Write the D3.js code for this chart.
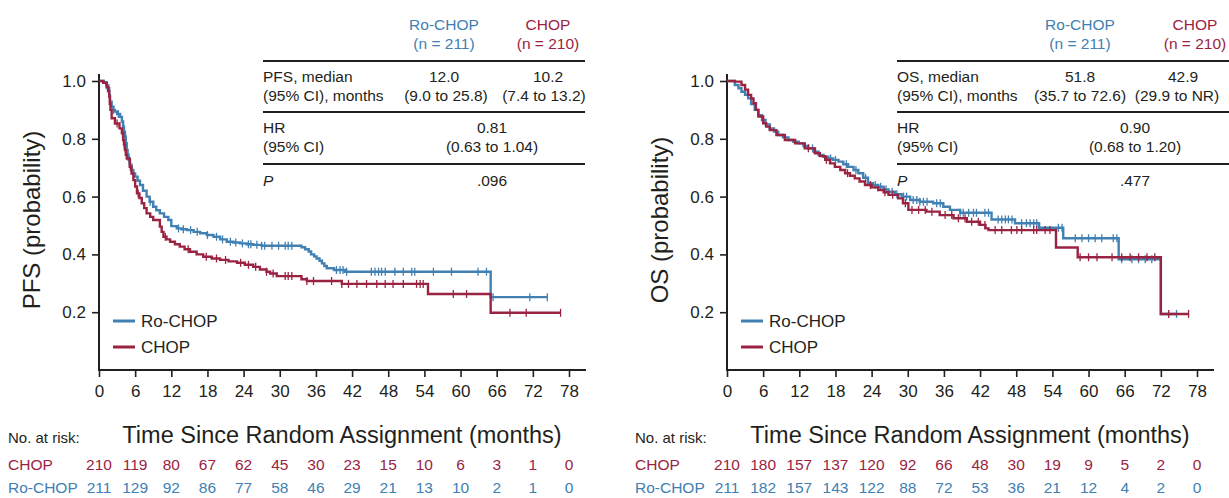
<!DOCTYPE html>
<html>
<head>
<meta charset="utf-8">
<script src="https://cdn.jsdelivr.net/npm/d3@7"></script>
<style>
  body { margin: 0; background: #fff; }
  text { font-family: "Liberation Sans", Arial, Helvetica, sans-serif; fill: #231f20; }
</style>
</head>
<body>
<svg id="chart" width="1229" height="498"></svg>
<script>
// ---- data ----
var months = [0, 6, 12, 18, 24, 30, 36, 42, 48, 54, 60, 66, 72, 78];
var probTicks = [0.2, 0.4, 0.6, 0.8, 1.0];

// PFS, [month, survival] at each step (last entry = end of follow-up)
var pfsRoSteps = [[0,1],[0.8,0.995],[1.2,0.985],[1.55,0.975],[1.7,0.95],[1.83,0.928],[2.1,0.911],[2.4,0.9],[2.65,0.894],[3,0.886],[3.5,0.876],[3.8,0.86],[4,0.842],[4.15,0.825],[4.3,0.807],[4.45,0.785],[4.6,0.761],[4.75,0.745],[4.9,0.727],[5.15,0.71],[5.4,0.692],[5.7,0.68],[6,0.669],[6.4,0.655],[6.8,0.64],[7.3,0.62],[7.9,0.6],[8.4,0.582],[9,0.565],[9.5,0.553],[10.1,0.542],[10.8,0.53],[11.5,0.519],[12,0.498],[12.9,0.49],[13.7,0.487],[14.6,0.484],[15.7,0.478],[16.8,0.473],[17.9,0.467],[19,0.461],[20.1,0.452],[21.2,0.444],[22.3,0.441],[23.4,0.438],[24.5,0.435],[25.6,0.433],[27,0.43],[33.6,0.425],[34.2,0.418],[34.8,0.41],[35.2,0.4],[35.7,0.393],[36.1,0.386],[36.6,0.378],[37,0.369],[37.4,0.36],[37.8,0.352],[39,0.346],[40.8,0.34],[65,0.252],[74.4,0.252]];
var pfsChopSteps = [[0,1],[0.7,0.994],[1.3,0.98],[1.5,0.965],[1.7,0.946],[1.8,0.92],[1.9,0.9],[2.1,0.871],[2.65,0.853],[3.4,0.836],[3.8,0.819],[4,0.796],[4.15,0.78],[4.3,0.761],[4.45,0.745],[4.6,0.732],[5.1,0.703],[5.4,0.68],[5.7,0.657],[6,0.635],[6.3,0.611],[6.7,0.595],[7.1,0.577],[7.5,0.56],[7.9,0.542],[8.5,0.53],[9,0.519],[10.1,0.496],[10.4,0.478],[10.7,0.461],[11.2,0.452],[11.8,0.444],[12.6,0.435],[13.4,0.427],[14.2,0.418],[15.1,0.409],[16.2,0.4],[17.3,0.392],[18.7,0.386],[20.1,0.381],[21.5,0.376],[22.9,0.371],[24.2,0.364],[25.6,0.357],[26.7,0.348],[27.8,0.34],[28.4,0.334],[29.5,0.325],[33.6,0.314],[34.5,0.308],[40.3,0.298],[54.6,0.263],[65,0.198],[76.6,0.198]];
var pfsRoCensor = [1.2, 2.4, 3.2, 4.4, 5, 8.5, 13.2, 14, 15.2, 16.3, 18, 19.5, 20.5, 21.8, 22.7, 23.8, 24.8, 25.2, 26.2, 27, 27.5, 28.7, 29.8, 30.9, 31.4, 32, 39.4, 40, 40.5, 41.1, 45.2, 45.8, 46.4, 46.9, 47.5, 49.1, 50.5, 51.9, 52.4, 55.5, 58.5, 62.9, 64.3, 65.4, 71.5, 74.4];
var pfsChopCensor = [1.6, 3, 4.2, 5.2, 6.5, 11, 14.8, 17.8, 19.5, 21, 23.5, 24.8, 26, 27.8, 28.9, 30.9, 31.4, 32, 34.5, 35.6, 38.6, 40.3, 41.4, 42.8, 44.4, 46.1, 47.5, 48.8, 50.5, 52.7, 53.3, 53.8, 58.8, 61, 68.2, 70.9, 76.6];

// OS
var osRoSteps = [[0,1],[1.3,0.986],[1.9,0.975],[2.4,0.963],[3,0.952],[3.5,0.94],[4,0.92],[4.6,0.9],[5.2,0.882],[5.8,0.865],[6.4,0.85],[7.1,0.836],[7.8,0.825],[8.5,0.813],[9.3,0.805],[10.2,0.796],[11,0.79],[11.9,0.784],[12.7,0.775],[13.5,0.767],[14.4,0.755],[15.2,0.744],[16,0.738],[16.8,0.732],[17.6,0.727],[18.5,0.721],[19.3,0.712],[20.1,0.703],[21,0.692],[21.8,0.681],[22.6,0.665],[23.4,0.646],[24.2,0.64],[25.1,0.634],[26,0.625],[26.8,0.617],[27.9,0.608],[29,0.6],[30.4,0.588],[32,0.582],[34.2,0.577],[35.9,0.565],[37,0.554],[38.7,0.544],[43.9,0.521],[47.8,0.508],[51.8,0.492],[55.8,0.456],[65,0.383],[72,0.194],[74.6,0.194]];
var osChopSteps = [[0,1],[1.3,0.998],[2.4,0.986],[3,0.97],[3.5,0.952],[4,0.94],[4.4,0.923],[4.8,0.9],[5.2,0.877],[6,0.854],[6.5,0.842],[7.1,0.83],[8.2,0.813],[9.6,0.796],[11.3,0.784],[12.9,0.767],[14.6,0.75],[15.4,0.74],[16.3,0.727],[17.1,0.715],[17.9,0.703],[18.8,0.692],[19.6,0.681],[20.4,0.672],[21.2,0.663],[22,0.652],[22.9,0.64],[24,0.632],[25.1,0.623],[26,0.615],[26.8,0.606],[28.4,0.594],[29.2,0.577],[30.1,0.554],[33.1,0.548],[35.3,0.536],[37.6,0.525],[39.8,0.513],[42,0.502],[42.9,0.49],[43.4,0.484],[54.6,0.424],[58.2,0.39],[72,0.194],[76.6,0.194]];
var osRoCensor = [14.2, 17.2, 18, 19.8, 21.4, 23, 24.6, 25.5, 26.4, 27.4, 28.2, 29.3, 29.8, 30.9, 31.5, 32, 32.6, 33.2, 34.8, 35.4, 38.7, 39.2, 40.1, 40.9, 41.4, 42.8, 43.4, 45, 45.6, 46.2, 46.7, 47.3, 48.9, 49.7, 50.3, 50.9, 51.4, 55, 55.6, 57.8, 58.9, 60, 61.1, 62.2, 64.1, 64.7, 65.5, 67.2, 68.3, 69.4, 70.5, 74.6];
var osChopCensor = [13.5, 16.5, 20, 23.8, 26.2, 27.5, 29.6, 30.7, 31.8, 32.9, 34, 36.2, 37.3, 38.4, 39.5, 40.6, 41.7, 42.8, 44.5, 45.6, 47.2, 48.1, 48.9, 50.9, 51.4, 52.8, 53.6, 58.6, 60, 61.4, 63.9, 65.5, 66.9, 68.3, 69.7, 71, 73.3, 76.6];

// numbers at risk
var pfsRiskChop = [210, 119, 80, 67, 62, 45, 30, 23, 15, 10, 6, 3, 1, 0];
var pfsRiskRo = [211, 129, 92, 86, 77, 58, 46, 29, 21, 13, 10, 2, 1, 0];
var osRiskChop = [210, 180, 157, 137, 120, 92, 66, 48, 30, 19, 9, 5, 2, 0];
var osRiskRo = [211, 182, 157, 143, 122, 88, 72, 53, 36, 21, 12, 4, 2, 0];

// inset tables
var armHeads = [["Ro-CHOP", "(n = 211)"], ["CHOP", "(n = 210)"]];
var pfsMedians = [["12.0", "(9.0 to 25.8)"], ["10.2", "(7.4 to 13.2)"]];
var osMedians = [["51.8", "(35.7 to 72.6)"], ["42.9", "(29.9 to NR)"]];
var pfsHR = ["0.81", "(0.63 to 1.04)", ".096"];
var osHR = ["0.90", "(0.68 to 1.20)", ".477"];

var blue = "#4180b2", red = "#9b2342";
var svg = d3.select("#chart");

function stepAt(steps, t) {
  var s = steps[0][1];
  for (var i = 0; i < steps.length; i++) { if (steps[i][0] <= t) s = steps[i][1]; }
  return s;
}

function drawPanel(p) {
  var g = svg.append("g").attr("transform", "translate(" + p.dx + ",0)");
  var x = d3.scaleLinear().domain([0, 78]).range([99, 569]);
  var y = d3.scaleLinear().domain([0, 1]).range([370, 81]);

  // axes
  var xAxis = g.append("g").attr("transform", "translate(0,370)")
    .call(d3.axisBottom(x).tickValues(months).tickSize(7).tickPadding(8));
  xAxis.select(".domain").remove();
  xAxis.selectAll("line").attr("stroke", "#231f20").attr("stroke-width", 1.6);
  xAxis.selectAll("text").style("font-size", "17px").attr("fill", "#231f20");
  var yAxis = g.append("g").attr("transform", "translate(99,0)")
    .call(d3.axisLeft(y).tickValues(probTicks).tickFormat(d3.format(".1f")).tickSize(7).tickPadding(6));
  yAxis.select(".domain").remove();
  yAxis.selectAll("line").attr("stroke", "#231f20").attr("stroke-width", 1.6);
  yAxis.selectAll("text").style("font-size", "17px").attr("fill", "#231f20");
  g.append("line").attr("x1", 99).attr("x2", 99).attr("y1", 74).attr("y2", 371)
    .attr("stroke", "#231f20").attr("stroke-width", 2);
  g.append("line").attr("x1", 98).attr("x2", 586).attr("y1", 370).attr("y2", 370)
    .attr("stroke", "#231f20").attr("stroke-width", 2);

  g.append("text").attr("transform", "translate(40,220) rotate(-90)")
    .attr("text-anchor", "middle").style("font-size", "24px").text(p.yTitle);
  g.append("text").attr("x", 342).attr("y", 443).attr("text-anchor", "middle")
    .style("font-size", "23.5px").text("Time Since Random Assignment (months)");

  // curves
  var line = d3.line().x(function(d) { return x(d[0]); }).y(function(d) { return y(d[1]); })
    .curve(d3.curveStepAfter);
  [[p.roSteps, p.roCensor, blue], [p.chopSteps, p.chopCensor, red]].forEach(function(c) {
    g.append("path").datum(c[0]).attr("d", line).attr("fill", "none")
      .attr("stroke", c[2]).attr("stroke-width", 2.4);
    g.append("g").selectAll("line").data(c[1]).join("line")
      .attr("x1", function(t) { return x(t); }).attr("x2", function(t) { return x(t); })
      .attr("y1", function(t) { return y(stepAt(c[0], t)) - 4; })
      .attr("y2", function(t) { return y(stepAt(c[0], t)) + 4; })
      .attr("stroke", c[2]).attr("stroke-width", 1.3);
  });

  // legend
  [["Ro-CHOP", blue, 321], ["CHOP", red, 347]].forEach(function(l) {
    g.append("line").attr("x1", 113).attr("x2", 135).attr("y1", l[2]).attr("y2", l[2])
      .attr("stroke", l[1]).attr("stroke-width", 3);
    g.append("text").attr("x", 141).attr("y", l[2] + 6).style("font-size", "17px").text(l[0]);
  });

  // numbers at risk
  g.append("text").attr("x", p.riskX).attr("y", 443).style("font-size", "15px").text("No. at risk:");
  [["CHOP", p.riskChop, red, 470], ["Ro-CHOP", p.riskRo, blue, 493]].forEach(function(r) {
    g.append("text").attr("x", p.riskX).attr("y", r[3]).style("font-size", "15.5px")
      .style("fill", r[2]).text(r[0]);
    g.append("g").selectAll("text").data(r[1]).join("text")
      .attr("x", function(d, i) { return x(months[i]); }).attr("y", r[3])
      .attr("text-anchor", "middle").style("font-size", "15.5px").style("fill", r[2])
      .text(function(d) { return d; });
  });

  // inset table
  var t = g.append("g").attr("transform", "translate(" + p.tableX + ",0)");
  [61, 112, 164].forEach(function(yy) {
    t.append("line").attr("x1", 0).attr("x2", p.tableW).attr("y1", yy).attr("y2", yy)
      .attr("stroke", "#231f20").attr("stroke-width", 1.8);
  });
  armHeads.forEach(function(h, i) {
    [30, 49].forEach(function(yy, j) {
      t.append("text").attr("x", p.headX[i]).attr("y", yy).attr("text-anchor", "middle")
        .style("font-size", "15.5px").style("fill", i === 0 ? blue : red).text(h[j]);
    });
  });
  t.append("text").attr("x", 0).attr("y", 82).style("font-size", "15.5px").text(p.medLabel);
  t.append("text").attr("x", 0).attr("y", 101).style("font-size", "15.5px").text("(95% CI), months");
  p.medians.forEach(function(m, i) {
    t.append("text").attr("x", p.colX[i][0]).attr("y", 82).attr("text-anchor", "middle")
      .style("font-size", "15.5px").text(m[0]);
    t.append("text").attr("x", p.colX[i][1]).attr("y", 101).attr("text-anchor", "middle")
      .style("font-size", "15.5px").text(m[1]);
  });
  t.append("text").attr("x", 0).attr("y", 133).style("font-size", "15.5px").text("HR");
  t.append("text").attr("x", 0).attr("y", 152).style("font-size", "15.5px").text("(95% CI)");
  t.append("text").attr("x", p.midX).attr("y", 133).attr("text-anchor", "middle")
    .style("font-size", "15.5px").text(p.hr[0]);
  t.append("text").attr("x", p.midX).attr("y", 152).attr("text-anchor", "middle")
    .style("font-size", "15.5px").text(p.hr[1]);
  t.append("text").attr("x", 0).attr("y", 186).style("font-size", "15.5px")
    .style("font-style", "italic").text("P");
  t.append("text").attr("x", p.midX).attr("y", 186).attr("text-anchor", "middle")
    .style("font-size", "15.5px").text(p.hr[2]);
}

drawPanel({
  dx: 0, yTitle: "PFS (probability)", riskX: 8,
  roSteps: pfsRoSteps, chopSteps: pfsChopSteps, roCensor: pfsRoCensor, chopCensor: pfsChopCensor,
  riskChop: pfsRiskChop, riskRo: pfsRiskRo,
  tableX: 263, tableW: 322, headX: [181, 285], colX: [[181, 183], [285, 281]], midX: 229,
  medLabel: "PFS, median", medians: pfsMedians, hr: pfsHR
});
drawPanel({
  dx: 628, yTitle: "OS (probability)", riskX: 7,
  roSteps: osRoSteps, chopSteps: osChopSteps, roCensor: osRoCensor, chopCensor: osChopCensor,
  riskChop: osRiskChop, riskRo: osRiskRo,
  tableX: 269, tableW: 340, headX: [183, 298], colX: [[183, 183], [286, 280]], midX: 238,
  medLabel: "OS, median", medians: osMedians, hr: osHR
});
</script>
</body>
</html>
